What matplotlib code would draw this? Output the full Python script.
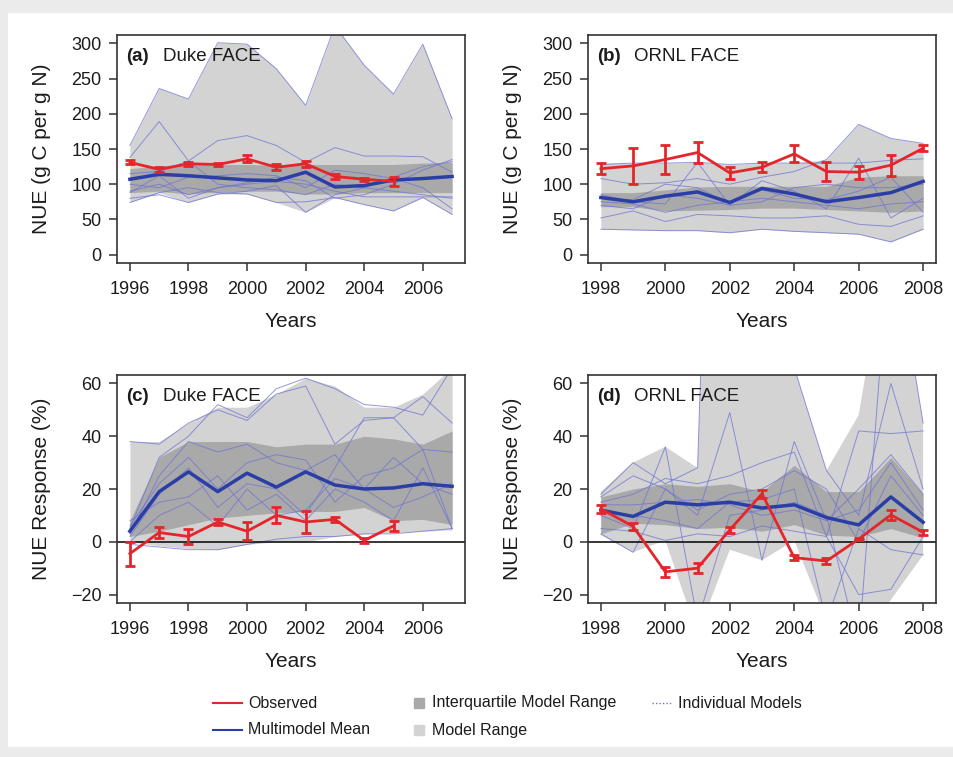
import matplotlib
matplotlib.use('Agg')
import matplotlib.pyplot as plt
from matplotlib.lines import Line2D
from matplotlib.patches import Rectangle
import numpy as np

plt.rcParams['font.family'] = ['Liberation Sans', 'DejaVu Sans']

# ---- data ----
duke_years = np.arange(1996, 2008)
ornl_years = np.arange(1998, 2009)

# (a) Duke NUE
a_max = [155, 236, 221, 301, 299, 264, 212, 325, 269, 228, 299, 193]
a_min = [74, 88, 74, 86, 86, 74, 60, 81, 71, 62, 81, 57]
a_q75 = [122, 126, 128, 128, 128, 127, 128, 128, 128, 128, 130, 131]
a_q25 = [88, 90, 86, 89, 90, 90, 86, 86, 88, 88, 88, 88]
a_mean = [107, 114, 112, 109, 106, 105, 117, 96, 98, 106, 108, 111]
a_obs = [131, 121, 129, 128, 136, 124, 129, 111, 107, 104]
a_err = [3, 3, 3, 2, 5, 4, 4, 3, 2, 6]
a_models = [
    [155, 236, 221, 301, 299, 264, 212, 325, 269, 228, 299, 193],
    [138, 189, 133, 100, 95, 92, 85, 100, 95, 90, 85, 80],
    [115, 118, 133, 162, 169, 155, 131, 152, 140, 140, 139, 117],
    [88, 112, 80, 95, 102, 110, 105, 80, 85, 100, 120, 135],
    [80, 85, 74, 86, 90, 98, 60, 85, 95, 110, 125, 132],
    [74, 88, 95, 88, 86, 74, 75, 81, 71, 62, 81, 57],
    [100, 95, 110, 112, 115, 112, 95, 120, 115, 108, 95, 65],
    [90, 100, 85, 95, 100, 104, 100, 90, 82, 82, 82, 82],
]

# (b) ORNL NUE
b_max = [130, 130, 130, 131, 128, 130, 130, 135, 185, 165, 158]
b_min = [36, 35, 34, 34, 31, 36, 33, 31, 29, 18, 36]
b_q75 = [88, 88, 92, 96, 97, 97, 97, 97, 110, 112, 112]
b_q25 = [68, 68, 62, 63, 64, 66, 66, 64, 62, 60, 62]
b_mean = [81, 75, 83, 89, 74, 94, 86, 75, 81, 88, 104]
b_obs = [122, 126, 135, 145, 116, 124, 143, 118, 117, 127, 151]
b_err = [8, 26, 21, 15, 8, 7, 12, 13, 9, 15, 4]
b_models = [
    [108, 100, 102, 108, 100, 110, 118, 135, 185, 165, 158],
    [128, 130, 130, 131, 128, 130, 130, 130, 130, 134, 136],
    [85, 75, 72, 131, 70, 105, 90, 65, 137, 52, 80],
    [80, 78, 100, 95, 72, 92, 80, 78, 90, 110, 60],
    [75, 72, 60, 70, 75, 80, 75, 70, 65, 72, 75],
    [52, 62, 47, 57, 55, 52, 52, 55, 43, 40, 55],
    [36, 35, 34, 34, 31, 36, 33, 31, 29, 18, 36],
    [70, 65, 85, 80, 70, 75, 95, 100, 95, 95, 100],
]

# (c) Duke NUE response (%)
c_max = [38, 38, 45, 51, 51, 56, 62, 59, 51, 51, 56, 66]
c_min = [0, -1.5, -2.5, -3, -1, 0, 0, 2, 3, 3.5, 4, 4.5]
c_q75 = [8, 32, 38, 38, 38, 36, 37, 37, 40, 39, 37, 42]
c_q25 = [2, 4, 6.5, 9, 10, 11, 11.5, 11.5, 13, 8, 8.5, 6.5]
c_mean = [4, 19, 26.5, 19, 26, 20.7, 26.5, 21.5, 20, 20.4, 22, 21]
c_obs = [-4.5, 3.5, 2, 7.5, 4, 10, 7.5, 8.5, 0.5, 6]
c_err = [4.5, 2, 3, 1, 3.5, 3, 4, 1, 1, 2]
c_models = [
    [38, 37, 45, 50, 46, 56, 59, 37, 46, 47, 55, 45],
    [5, 32, 40, 52, 47, 58, 62, 58, 52, 51, 48, 66],
    [3, 25, 38, 34, 37, 30, 27, 33, 20, 32, 22, 18],
    [6, 22, 32, 20, 30, 33, 31, 15, 25, 28, 35, 5],
    [2, 18, 28, 13, 22, 20, 10, 28, 47, 47, 35, 34],
    [0, 10, 15, 6, 20, 10, 12, 24, 20, 13, 17, 22],
    [-1, -2, -3, -3, -1, 1, 2, 2, 3, 3, 4, 5],
    [8, 15, 17, 25, 12, 18, 8, 20, 15, 8, 28, 5],
]

# (d) ORNL NUE response (%)
d_max = [19, 30, 36, 28, 400, 150, 66, 27, 48, 120, 45]
d_min = [2.5, -4, 0.5, -35, -3, -7, 0.5, -30, -40, -22, -5]
d_q75 = [17, 20, 22, 21, 22, 19, 29, 19, 19, 32, 18]
d_q25 = [3, 7, 6.5, 5, 5.5, 4, 6.5, 2.5, 2, 5, 1.5]
d_mean = [12, 9.6, 15, 14, 15, 12.8, 14, 9.2, 6.4, 17, 7.4]
d_obs = [12.5, 5.8, -11.4, -10, 4.5, 18.2, -6, -7.3, 1, 10.2, 3.6]
d_err = [1.5, 1.5, 2, 2, 1, 1.5, 1, 1, 0.5, 2, 1]
d_models = [
    [18, 30, 22, 28, 400, 150, 66, 27, 10, 60, 20],
    [10, 5, 36, -30, 10, 12, 15, 10, -40, 120, 45],
    [3, -4, 20, 10, 49, -7, 38, 8, 20, 33, 18],
    [15, 18, 24, 22, 25, 30, 34, 2, 42, 41, 42],
    [12, 10, 8, 5, 15, 16, 20, -30, 5, -3, -5],
    [17, 25, 20, 12, 18, 20, 27, 20, 0, 25, 10],
    [5, 4, 0.5, 3, 2, 6, 4, 2, -20, -18, 2],
    [14, 14, 15, 16, 14, 10, 12, 8, 12, 30, 12],
]

legend_labels = ['Observed', 'Multimodel Mean', 'Interquartile Model Range',
                 'Model Range', 'Individual Models']

RED = '#e3262b'
BLUE = '#2a3ea6'
INDIV = '#6f74d2'
LIGHT = '#d3d3d3'
DARK = '#a9a9a9'
TXT = '#1c1c1c'

W, H = 954, 757
fig = plt.figure(figsize=(W / 100, H / 100), dpi=100)
fig.patch.set_facecolor('#ebebeb')
fig.add_artist(Rectangle((8 / W, 1 - 747 / H), 1, (747 - 13) / H,
                         transform=fig.transFigure, facecolor='white',
                         edgecolor='none', zorder=0))

def axes_at(x0, y0, x1, y1):
    return fig.add_axes([x0 / W, 1 - y1 / H, (x1 - x0) / W, (y1 - y0) / H])

panels = [
    (axes_at(117, 35, 465, 263), duke_years, a_max, a_min, a_q75, a_q25, a_mean,
     a_obs, a_err, a_models, '(a)', 'Duke FACE', 'NUE (g C per g N)'),
    (axes_at(588, 35, 936, 263), ornl_years, b_max, b_min, b_q75, b_q25, b_mean,
     b_obs, b_err, b_models, '(b)', 'ORNL FACE', 'NUE (g C per g N)'),
    (axes_at(117, 375, 465, 603), duke_years, c_max, c_min, c_q75, c_q25, c_mean,
     c_obs, c_err, c_models, '(c)', 'Duke FACE', 'NUE Response (%)'),
    (axes_at(588, 375, 936, 603), ornl_years, d_max, d_min, d_q75, d_q25, d_mean,
     d_obs, d_err, d_models, '(d)', 'ORNL FACE', 'NUE Response (%)'),
]

for i, (ax, yrs, mx, mn, q75, q25, mean, obs, err, models, tag, site, ylab) in enumerate(panels):
    ax.fill_between(yrs, mn, mx, color=LIGHT, lw=0, zorder=1)
    ax.fill_between(yrs, q25, q75, color=DARK, lw=0, zorder=2)
    for m in models:
        ax.plot(yrs, m, color=INDIV, lw=0.7, alpha=0.75, zorder=3)
    if i >= 2:
        ax.axhline(0, color='black', lw=1.1, zorder=4)
    ax.plot(yrs, mean, color=BLUE, lw=2.5, zorder=5)
    ax.errorbar(yrs[:len(obs)], obs, yerr=err, color=RED, lw=2, elinewidth=2,
                capsize=3.8, capthick=2, zorder=6)

    # R-style 4% padding
    ax.set_xlim(yrs[0] - 0.04 * (yrs[-1] - yrs[0]), yrs[-1] + 0.04 * (yrs[-1] - yrs[0]))
    ax.set_xticks(np.arange(yrs[0], yrs[-1] + 1, 2))
    if i < 2:
        ax.set_ylim(-12, 312)
        ax.set_yticks(np.arange(0, 301, 50))
    else:
        ax.set_ylim(-23.2, 63.2)
        ax.set_yticks([-20, 0, 20, 40, 60])
    ax.tick_params(direction='out', length=6, width=1.1, labelsize=13,
                   color='#333333', labelcolor=TXT)
    ax.tick_params(axis='x', pad=7)
    ax.tick_params(axis='y', pad=5)
    for s in ax.spines.values():
        s.set_color('#333333')
        s.set_linewidth(1.2)
        s.set_zorder(7)

    ax.set_xlabel('Years', fontsize=15, color=TXT)
    ax.xaxis.set_label_coords(0.5, -0.215)
    ax.set_ylabel(ylab, fontsize=15, color=TXT)
    ax.yaxis.set_label_coords(-0.19, 0.5)

    ax.text(0.027, 0.905, tag, transform=ax.transAxes, fontsize=13.5,
            fontweight='bold', va='center', color=TXT, zorder=8)
    ax.text(0.131, 0.905, site, transform=ax.transAxes, fontsize=13.5,
            va='center', color=TXT, zorder=8)

# legend, laid out by hand in pixel positions
def fx(px):
    return px / W

def fy(py):
    return 1 - py / H

row1, row2 = 703, 730
fig.add_artist(Line2D([fx(213), fx(242)], [fy(row1)] * 2, color=RED, lw=1.5,
                      transform=fig.transFigure))
fig.add_artist(Line2D([fx(213), fx(242)], [fy(row2)] * 2, color=BLUE, lw=1.5,
                      transform=fig.transFigure))
fig.add_artist(Rectangle((fx(414), fy(row1 + 5)), 10 / W, 10 / H, color=DARK,
                         transform=fig.transFigure))
fig.add_artist(Rectangle((fx(414), fy(row2 + 5)), 10 / W, 10 / H, color=LIGHT,
                         transform=fig.transFigure))
fig.add_artist(Line2D([fx(652), fx(671)], [fy(row1)] * 2, color=INDIV, lw=1,
                      ls=(0, (1, 1.5)), transform=fig.transFigure))
legend_pos = [(248, row1), (248, row2), (432, row1), (432, row2), (678, row1)]
for lab, (px, py) in zip(legend_labels, legend_pos):
    fig.text(fx(px), fy(py), lab, fontsize=11.5, va='center', ha='left', color=TXT)

fig.savefig('out.png', dpi=100, facecolor=fig.get_facecolor())
